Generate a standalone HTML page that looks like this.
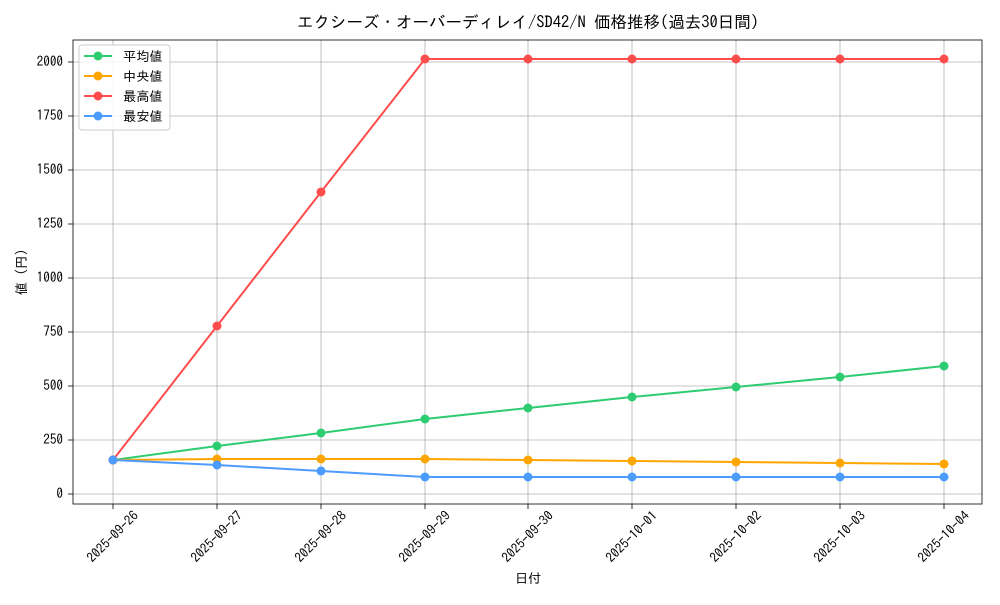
<!DOCTYPE html>
<html><head><meta charset="utf-8"><style>
body{margin:0;background:#fff;}
svg text{font-family:"IPAGothic","Noto Sans CJK JP",sans-serif;fill:#000;}
</style></head><body>
<svg width="1000" height="600" xmlns="http://www.w3.org/2000/svg">
<rect width="1000" height="600" fill="#fff"/>
<g stroke="#b0b0b0" stroke-width="0.8">
<line x1="113" y1="40" x2="113" y2="504"/><line x1="217" y1="40" x2="217" y2="504"/><line x1="321" y1="40" x2="321" y2="504"/><line x1="425" y1="40" x2="425" y2="504"/><line x1="528" y1="40" x2="528" y2="504"/><line x1="632" y1="40" x2="632" y2="504"/><line x1="736" y1="40" x2="736" y2="504"/><line x1="840" y1="40" x2="840" y2="504"/><line x1="944" y1="40" x2="944" y2="504"/>
<line x1="73" y1="494" x2="982" y2="494"/><line x1="73" y1="440" x2="982" y2="440"/><line x1="73" y1="386" x2="982" y2="386"/><line x1="73" y1="332" x2="982" y2="332"/><line x1="73" y1="278" x2="982" y2="278"/><line x1="73" y1="224" x2="982" y2="224"/><line x1="73" y1="170" x2="982" y2="170"/><line x1="73" y1="116" x2="982" y2="116"/><line x1="73" y1="62" x2="982" y2="62"/>
</g>
<rect x="73" y="40" width="909" height="464" fill="none" stroke="#000" stroke-width="0.8"/>
<g stroke="#000" stroke-width="0.8">
<line x1="68" y1="494" x2="73" y2="494"/><line x1="68" y1="440" x2="73" y2="440"/><line x1="68" y1="386" x2="73" y2="386"/><line x1="68" y1="332" x2="73" y2="332"/><line x1="68" y1="278" x2="73" y2="278"/><line x1="68" y1="224" x2="73" y2="224"/><line x1="68" y1="170" x2="73" y2="170"/><line x1="68" y1="116" x2="73" y2="116"/><line x1="68" y1="62" x2="73" y2="62"/>
<line x1="113" y1="504" x2="113" y2="509"/><line x1="217" y1="504" x2="217" y2="509"/><line x1="321" y1="504" x2="321" y2="509"/><line x1="425" y1="504" x2="425" y2="509"/><line x1="528" y1="504" x2="528" y2="509"/><line x1="632" y1="504" x2="632" y2="509"/><line x1="736" y1="504" x2="736" y2="509"/><line x1="840" y1="504" x2="840" y2="509"/><line x1="944" y1="504" x2="944" y2="509"/>
</g>
<g font-size="13.2" text-anchor="end">
<text x="63" y="498">0</text><text x="63" y="444">250</text><text x="63" y="390">500</text><text x="63" y="336">750</text><text x="63" y="282">1000</text><text x="63" y="228">1250</text><text x="63" y="174">1500</text><text x="63" y="120">1750</text><text x="63" y="66">2000</text>
</g>
<g font-size="13.2" text-anchor="middle">
<text transform="translate(113,537) rotate(-45)" dy="4">2025-09-26</text>
<text transform="translate(217,537) rotate(-45)" dy="4">2025-09-27</text>
<text transform="translate(321,537) rotate(-45)" dy="4">2025-09-28</text>
<text transform="translate(425,537) rotate(-45)" dy="4">2025-09-29</text>
<text transform="translate(528,537) rotate(-45)" dy="4">2025-09-30</text>
<text transform="translate(632,537) rotate(-45)" dy="4">2025-10-01</text>
<text transform="translate(736,537) rotate(-45)" dy="4">2025-10-02</text>
<text transform="translate(840,537) rotate(-45)" dy="4">2025-10-03</text>
<text transform="translate(944,537) rotate(-45)" dy="4">2025-10-04</text>
</g>
<text x="528" y="583" font-size="13.2" text-anchor="middle">日付</text>
<text transform="translate(26,272) rotate(-90)" font-size="13.2" text-anchor="middle">値 (円)</text>
<text x="528" y="28" font-size="16.5" text-anchor="middle">エクシーズ・オーバーディレイ/SD42/N 価格推移(過去30日間)</text>
<g fill="none" stroke-width="2">
<polyline stroke="#2ecc71" points="113,460 217,446 321,433 425,419 528,408 632,397 736,387 840,377 944,366"/>
<polyline stroke="#ffa500" points="113,460 217,459 321,459 425,459 528,460 632,461 736,462 840,463 944,464"/>
<polyline stroke="#ff4c4c" points="113,460 217,326 321,192 425,59 528,59 632,59 736,59 840,59 944,59"/>
<polyline stroke="#4c9cff" points="113,460 217,465 321,471 425,477 528,477 632,477 736,477 840,477 944,477"/>
</g>
<g fill="#2ecc71"><circle cx="113" cy="460" r="4.5"/><circle cx="217" cy="446" r="4.5"/><circle cx="321" cy="433" r="4.5"/><circle cx="425" cy="419" r="4.5"/><circle cx="528" cy="408" r="4.5"/><circle cx="632" cy="397" r="4.5"/><circle cx="736" cy="387" r="4.5"/><circle cx="840" cy="377" r="4.5"/><circle cx="944" cy="366" r="4.5"/></g>
<g fill="#ffa500"><circle cx="113" cy="460" r="4.5"/><circle cx="217" cy="459" r="4.5"/><circle cx="321" cy="459" r="4.5"/><circle cx="425" cy="459" r="4.5"/><circle cx="528" cy="460" r="4.5"/><circle cx="632" cy="461" r="4.5"/><circle cx="736" cy="462" r="4.5"/><circle cx="840" cy="463" r="4.5"/><circle cx="944" cy="464" r="4.5"/></g>
<g fill="#ff4c4c"><circle cx="113" cy="460" r="4.5"/><circle cx="217" cy="326" r="4.5"/><circle cx="321" cy="192" r="4.5"/><circle cx="425" cy="59" r="4.5"/><circle cx="528" cy="59" r="4.5"/><circle cx="632" cy="59" r="4.5"/><circle cx="736" cy="59" r="4.5"/><circle cx="840" cy="59" r="4.5"/><circle cx="944" cy="59" r="4.5"/></g>
<g fill="#4c9cff"><circle cx="113" cy="460" r="4.5"/><circle cx="217" cy="465" r="4.5"/><circle cx="321" cy="471" r="4.5"/><circle cx="425" cy="477" r="4.5"/><circle cx="528" cy="477" r="4.5"/><circle cx="632" cy="477" r="4.5"/><circle cx="736" cy="477" r="4.5"/><circle cx="840" cy="477" r="4.5"/><circle cx="944" cy="477" r="4.5"/></g>
<rect x="79" y="45" width="91" height="85" rx="3" fill="#fff" fill-opacity="0.85" stroke="#ccc"/>
<g stroke-width="2">
<line x1="84" y1="56" x2="112" y2="56" stroke="#2ecc71"/><circle cx="98" cy="56" r="4.5" fill="#2ecc71"/>
<line x1="84" y1="76" x2="112" y2="76" stroke="#ffa500"/><circle cx="98" cy="76" r="4.5" fill="#ffa500"/>
<line x1="84" y1="96" x2="112" y2="96" stroke="#ff4c4c"/><circle cx="98" cy="96" r="4.5" fill="#ff4c4c"/>
<line x1="84" y1="116" x2="112" y2="116" stroke="#4c9cff"/><circle cx="98" cy="116" r="4.5" fill="#4c9cff"/>
</g>
<g font-size="13.2"><text x="123" y="61">平均値</text><text x="123" y="81">中央値</text><text x="123" y="101">最高値</text><text x="123" y="121">最安値</text></g>
</svg>
</body></html>
